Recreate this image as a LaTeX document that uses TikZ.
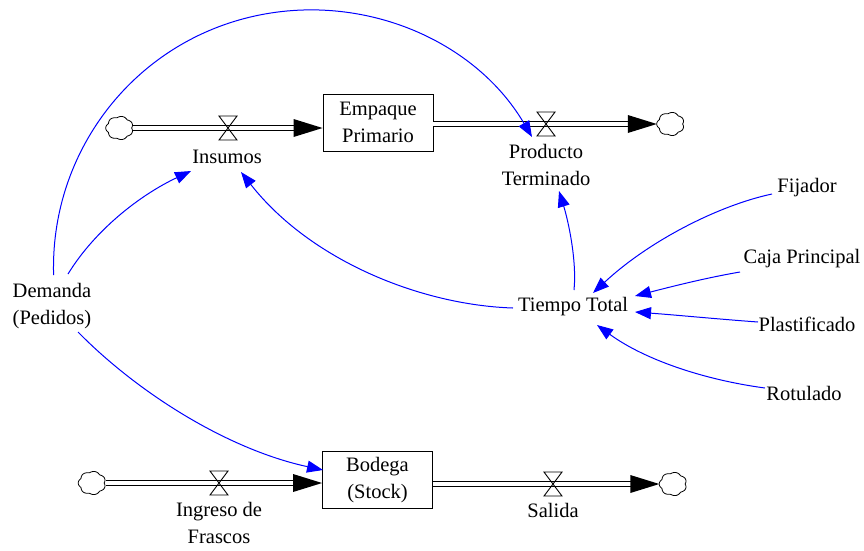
\documentclass[tikz,border=0pt]{standalone}
\usepackage{fontspec}
\setmainfont{Liberation Serif}
\newfontfamily\tnr{Liberation Serif}
\usetikzlibrary{arrows.meta}
\begin{document}
\begin{tikzpicture}[x=1pt,y=-1pt,
  txt/.style={font=\tnr\fontsize{20.5}{27.5}\selectfont, inner sep=0pt, align=center},
  stock/.style={txt, draw, line width=0.9pt, minimum width=110pt, minimum height=57pt},
  link/.style={draw=blue, line width=1pt, -{Triangle[length=16pt,width=12pt]}},
  pipe/.style={draw=black, line width=1.2pt, double=white, double distance=4pt},
  cloudn/.style={inner sep=0pt, minimum width=27pt, minimum height=23pt},
  valven/.style={inner sep=0pt, minimum width=18pt, minimum height=24pt},
  cloudpic/.pic={\draw[line width=0.8pt, fill=white] plot[smooth cycle, domain=0:355, samples=72]
      ({13.5*(0.9+0.12*abs(sin(3.5*\x)))*cos(\x)}, {11.5*(0.9+0.12*abs(sin(3.5*\x)))*sin(\x)});},
  valvepic/.pic={\draw[line width=0.9pt] (-9,-12) -- (9,-12) -- (-9,12) -- (9,12) -- cycle;},
  ftip/.pic={\fill[black] (0,0) -- (-29,-9) -- (-29,9) -- cycle;}
]
\useasboundingbox (0,0) rectangle (864,550);

% stocks
\node[stock] (emp) at (378,122.5) {Empaque\\Primario};
\node[stock] (bod) at (377.5,480) {Bodega\\(Stock)};

% clouds and valves
\node[cloudn] (cl1) at (119.5,128) {};
\node[cloudn] (cl2) at (670.5,124) {};
\node[cloudn] (cl3) at (92,483) {};
\node[cloudn] (cl4) at (673,484) {};
\node[valven] (v1) at (228,128) {};
\node[valven] (v2) at (546,124) {};
\node[valven] (v3) at (219,483) {};
\node[valven] (v4) at (553,484) {};

% variables
\node[txt] (dem) at (52,306) {Demanda\\(Pedidos)};
\node[txt] (ins) at (227,157) {Insumos};
\node[txt] (pt) at (546,165) {Producto\\Terminado};
\node[txt] (tt) at (573,307) {Tiempo Total};
\node[txt] (fij) at (807,188) {Fijador};
\node[txt] (caja) at (802,259) {Caja Principal};
\node[txt] (plast) at (807,324) {Plastificado};
\node[txt] (rot) at (804,393) {Rotulado};
\node[txt] (ing) at (219,523) {Ingreso de\\Frascos};
\node[txt] (sal) at (553,510) {Salida};

% pipes
\draw[pipe, shorten >=28pt] (cl1.east) -- (emp.west |- v1);
\pic at (emp.west |- v1) {ftip};
\draw[pipe, shorten >=28pt] (emp.east |- v2) -- (cl2.west);
\pic at (cl2.west) {ftip};
\draw[pipe, shorten >=28pt] (cl3.east) -- (bod.west |- v3);
\pic at (bod.west |- v3) {ftip};
\draw[pipe, shorten >=28pt] (bod.east |- v4) -- (cl4.west);
\pic at (cl4.west) {ftip};

\pic at (v1) {valvepic};
\pic at (v2) {valvepic};
\pic at (v3) {valvepic};
\pic at (v4) {valvepic};
\pic at (cl1) {cloudpic};
\pic at (cl2) {cloudpic};
\pic at (cl3) {cloudpic};
\pic at (cl4) {cloudpic};

% information links
\draw[link] ([shift={(1.6,-31)}]dem.center) .. controls (50.1,157.7) and (126,52.4) .. (239,20)
   .. controls (352,-12.4) and (472.6,35.9) .. ([shift={(-14,13)}]v2.center);
\draw[link] ([shift={(16,-32)}]dem.center) .. controls (95,230) and (140,195) .. ([shift={(-36,14)}]ins.center);
\draw[link] ([shift={(26,26)}]dem.center) .. controls (140,395) and (230,450) .. ([shift={(1,-10)}]bod.west);
\draw[link] ([shift={(-60,1)}]tt.center) .. controls (420,305) and (310,260) .. ([shift={(14,15)}]ins.center);
\draw[link] ([shift={(1,-17)}]tt.center) .. controls (577,260) and (568,220) .. ([shift={(13,26)}]pt.center);
\draw[link] ([shift={(-35,6)}]fij.center) .. controls (720,205) and (650,240) .. ([shift={(20,-14)}]tt.center);
\draw[link] ([shift={(-62,13)}]caja.center) .. controls (705,278) and (670,287) .. ([shift={(62,-11)}]tt.center);
\draw[link] ([shift={(-49,-2)}]plast.center) .. controls (717,319) and (676,315) .. ([shift={(62,5)}]tt.center);
\draw[link] ([shift={(-39,-5)}]rot.center) .. controls (705,380) and (645,360) .. ([shift={(24,18)}]tt.center);
\end{tikzpicture}
\end{document}
